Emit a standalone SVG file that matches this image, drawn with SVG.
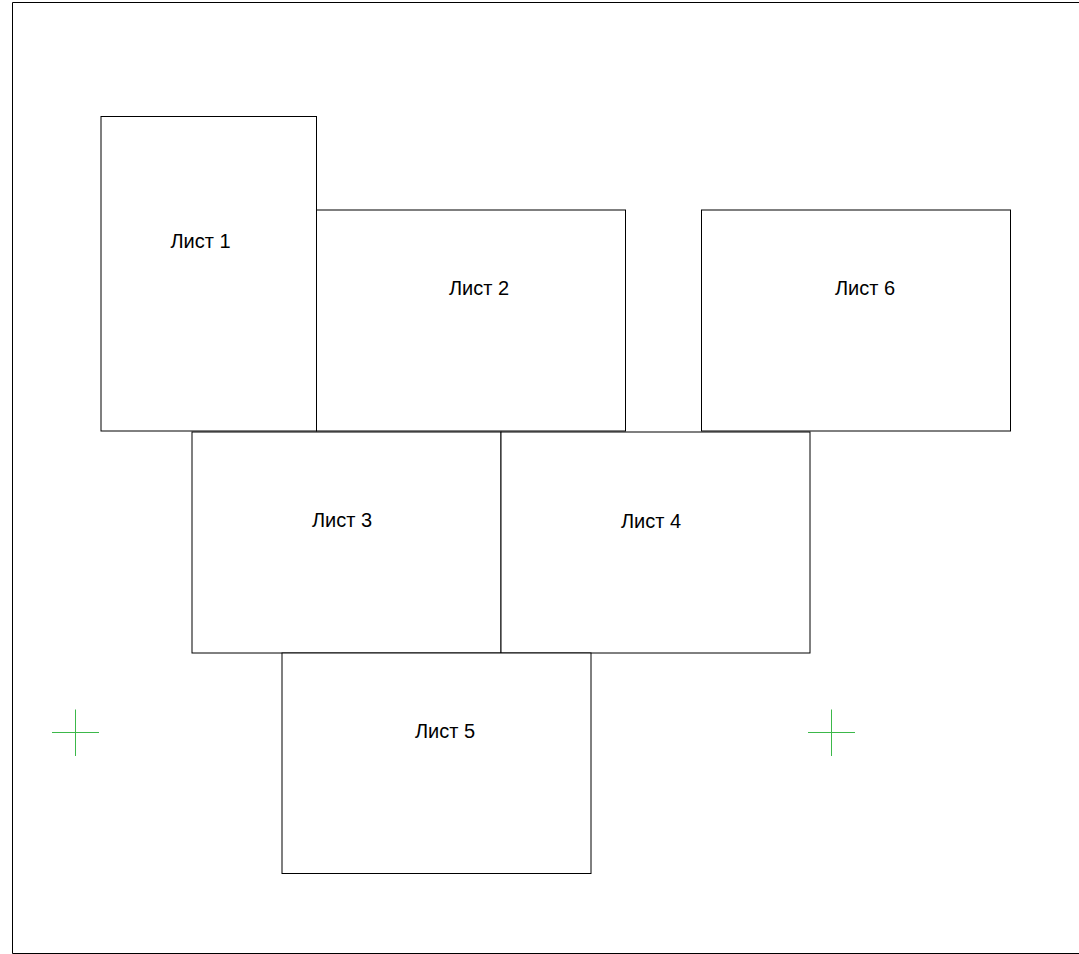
<svg xmlns="http://www.w3.org/2000/svg" width="1079" height="954" viewBox="0 0 1079 954">
<style>
.sheet{fill:#fff;stroke:#000;stroke-width:1}
.lbl{font-family:"Liberation Sans",Arial,sans-serif;font-size:20px;fill:#000;text-anchor:middle}
.cross{stroke:#3cb84a;stroke-width:1;fill:none}
</style>
<rect x="0" y="0" width="1079" height="954" fill="#fff"/>
<path d="M1080 2.5 H12.5 V953.5 H1080" fill="none" stroke="#000" stroke-width="1"/>
<g id="sheet1"><rect class="sheet" x="101" y="116.5" width="215.5" height="314.5"/><text class="lbl" x="200.5" y="248">Лист 1</text></g>
<g id="sheet2"><rect class="sheet" x="316.5" y="210" width="309" height="221"/><text class="lbl" x="479" y="295">Лист 2</text></g>
<g id="sheet6"><rect class="sheet" x="701.5" y="210" width="309" height="221"/><text class="lbl" x="865" y="295">Лист 6</text></g>
<g id="sheet3"><rect class="sheet" x="192" y="432" width="309" height="221"/><text class="lbl" x="342" y="527">Лист 3</text></g>
<g id="sheet4"><rect class="sheet" x="501" y="432" width="309" height="221"/><text class="lbl" x="651" y="528">Лист 4</text></g>
<g id="sheet5"><rect class="sheet" x="282" y="653" width="309" height="220.5"/><text class="lbl" x="445" y="738">Лист 5</text></g>
<g id="crosses">
<path class="cross" d="M52 732.5 H99 M75.5 709.5 V756"/>
<path class="cross" d="M808 732.5 H855 M831.5 709.5 V756"/>
</g>
</svg>
